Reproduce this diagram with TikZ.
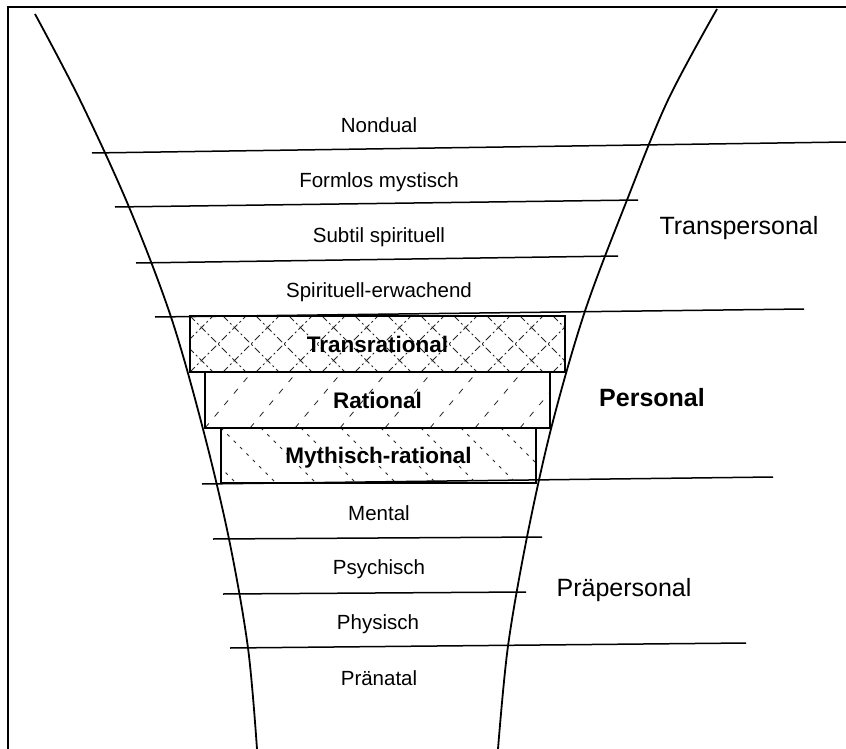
\documentclass[tikz,border=0pt]{standalone}
\usepackage{fontspec}
\setmainfont{Liberation Sans}
\begin{document}
\begin{tikzpicture}[x=1pt,y=-1pt,
  frame/.style={line width=2.4pt},
  funnel/.style={line width=1.8pt},
  level/.style={line width=1.5pt},
  lvl/.style={inner sep=0pt, text depth=0pt, font=\fontsize{20.5}{24}\selectfont},
  region/.style={inner sep=0pt, text depth=0pt, font=\fontsize{25}{30}\selectfont},
  hatchline/.style={line width=0.8pt, black!85},
  bandbox/.style={draw, line width=2pt, inner sep=0pt, text depth=0pt,
    font=\fontsize{22.5}{26}\selectfont\bfseries},
  crosshatch/.style={path picture={
    \foreach \k in {-3,...,13}{
      \draw[hatchline, dash pattern=on 7pt off 3pt on 2pt off 3pt]
        ([xshift=\k*33pt]path picture bounding box.north west) -- ++(62pt,-62pt);
      \draw[hatchline, dash pattern=on 7pt off 3pt on 2pt off 3pt]
        ([xshift=\k*33pt]path picture bounding box.south west) -- ++(62pt,62pt);
    }}},
  nehatch/.style={path picture={
    \foreach \k in {-3,...,10}{
      \draw[hatchline, dash pattern=on 6pt off 9pt]
        ([xshift=\k*45pt]path picture bounding box.south west) -- ++(52pt,62pt);
    }}},
  nwhatch/.style={path picture={
    \foreach \k in {-3,...,10}{
      \draw[hatchline, dash pattern=on 3pt off 6pt]
        ([xshift=\k*40pt]path picture bounding box.north west) -- ++(58pt,-58pt);
    }}}
]
\useasboundingbox (0,0) rectangle (846,749);
\fill[white] (0,0) rectangle (846,749);

% frame (top and left edges)
\coordinate (fTR) at (846,7);
\coordinate (fTL) at (8,7);
\coordinate (fBL) at (8,749);
\draw[frame] (fTR) -- (fTL) -- (fBL);

% level lines
\coordinate (a1) at (92,153);  \coordinate (b1) at (846,142);
\coordinate (a2) at (115,207); \coordinate (b2) at (638,200);
\coordinate (a3) at (136,263); \coordinate (b3) at (618,256);
\coordinate (a4) at (155,317); \coordinate (b4) at (804,309);
\coordinate (a5) at (202,484); \coordinate (b5) at (773,477);
\coordinate (a6) at (213,539); \coordinate (b6) at (542,537);
\coordinate (a7) at (223,594); \coordinate (b7) at (526,592);
\coordinate (a8) at (230,648); \coordinate (b8) at (746,643);
\foreach \i in {1,...,8} \draw[level] (a\i) -- (b\i);

% band boxes
\node[bandbox, crosshatch, minimum width=375pt, minimum height=56pt] (trans) at (377.5,344) {Transrational};
\node[bandbox, nehatch, minimum width=345pt, minimum height=56pt] (rat) at (377.5,400) {Rational};
\node[bandbox, nwhatch, minimum width=315pt, minimum height=55pt] (myth) at (378.5,455.5) {Mythisch-rational};

% funnel curves
\draw[funnel] plot[smooth, tension=0.55] coordinates {(35,14) (80,100) (129,207) (171,317) (203,429) (229,539) (248,648) (257,749)};
\draw[funnel] plot[smooth, tension=0.55] coordinates {(717,9) (668,100) (627,200) (585,311) (552,425) (527,537) (508,646) (498,749)};

% level labels
\node[lvl] (nondual) at (379,125) {Nondual};
\node[lvl] (formlos) at (379,180) {Formlos mystisch};
\node[lvl] (subtil) at (379,235) {Subtil spirituell};
\node[lvl] (spirit) at (379,290) {Spirituell-erwachend};
\node[lvl] (mental) at (379,513) {Mental};
\node[lvl] (psych) at (379,567) {Psychisch};
\node[lvl] (phys) at (378,622) {Physisch};
\node[lvl] (pren) at (379,678) {Pränatal};

% region labels
\node[region] (transp) at (739,225) {Transpersonal};
\node[region, font=\fontsize{25}{30}\selectfont\bfseries] (pers) at (652,397) {Personal};
\node[region] (praep) at (624,587) {Präpersonal};
\end{tikzpicture}
\end{document}
